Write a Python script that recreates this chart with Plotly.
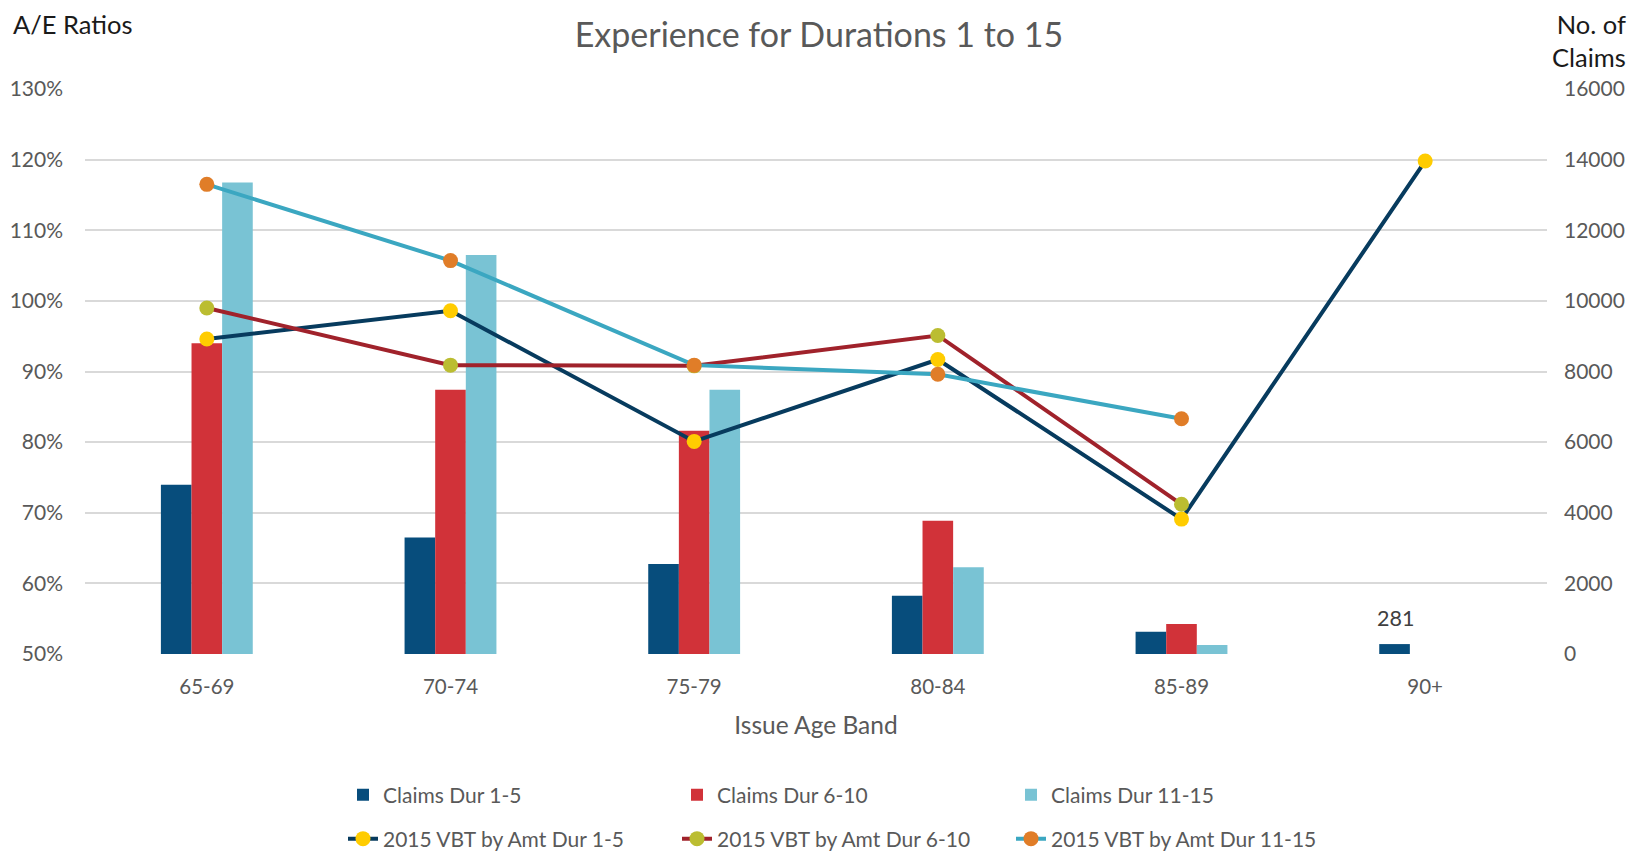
import plotly.graph_objects as go

# ---------------- data ----------------
age_bands = ["65-69", "70-74", "75-79", "80-84", "85-89", "90+"]

claims_dur_1_5 = [4790, 3300, 2550, 1650, 630, 281]
claims_dur_6_10 = [8800, 7480, 6320, 3770, 850, None]
claims_dur_11_15 = [13350, 11300, 7480, 2460, 255, None]

ae_dur_1_5 = [0.946, 0.986, 0.801, 0.917, 0.691, 1.198]
ae_dur_6_10 = [0.990, 0.909, 0.908, 0.951, 0.712, None]
ae_dur_11_15 = [1.165, 1.057, 0.909, 0.896, 0.833, None]

left_ticks = [0.5, 0.6, 0.7, 0.8, 0.9, 1.0, 1.1, 1.2, 1.3]
right_ticks = [0, 2000, 4000, 6000, 8000, 10000, 12000, 14000, 16000]

# ---------------- styles ----------------
FONT = "Lato"
GREY = "#595959"
bar_colors = ["#074D7C", "#D13239", "#79C3D4"]
line_colors = ["#073B5E", "#A0222B", "#3BA7C1"]
marker_colors = ["#FFCC00", "#BBBD31", "#E07D28"]

# figure sits inside the page body (8px default margin)
W, H = 1639, 846

fig = go.Figure()

bar_series = [
    ("Claims Dur 1-5", claims_dur_1_5),
    ("Claims Dur 6-10", claims_dur_6_10),
    ("Claims Dur 11-15", claims_dur_11_15),
]
for i, (name, vals) in enumerate(bar_series):
    fig.add_trace(go.Bar(
        x=age_bands, y=vals, name=name,
        marker=dict(color=bar_colors[i], line=dict(width=0)),
        yaxis="y",
        legend="legend",
    ))

line_series = [
    ("2015 VBT by Amt Dur 1-5", ae_dur_1_5),
    ("2015 VBT by Amt Dur 6-10", ae_dur_6_10),
    ("2015 VBT by Amt Dur 11-15", ae_dur_11_15),
]
for i, (name, vals) in enumerate(line_series):
    fig.add_trace(go.Scatter(
        x=age_bands, y=vals, name=name, mode="lines+markers",
        line=dict(color=line_colors[i], width=4),
        marker=dict(color=marker_colors[i], size=15, line=dict(width=0)),
        yaxis="y2",
        legend="legend2",
        cliponaxis=False,
    ))

legend_common = dict(
    orientation="h", xref="container", yref="container",
    x=335 / W, xanchor="left", yanchor="middle",
    entrywidth=289, entrywidthmode="pixels",
    font=dict(family=FONT, size=21, color=GREY),
    bgcolor="rgba(0,0,0,0)",
)

fig.update_layout(
    width=W, height=H,
    margin=dict(l=77, r=100, t=81, b=200, autoexpand=False),
    paper_bgcolor="white", plot_bgcolor="white",
    font=dict(family=FONT, size=20, color=GREY),
    barmode="group", bargap=0.623, bargroupgap=0,
    title=dict(text="Experience for Durations 1 to 15", xref="container", x=811 / W,
               xanchor="center", yref="container", y=1 - 27 / H, yanchor="middle",
               font=dict(family=FONT, size=34, color=GREY)),
    xaxis=dict(
        type="category", showgrid=False, showline=False, ticks="",
        tickfont=dict(family=FONT, size=20.5, color=GREY),
        ticklabelstandoff=18,
        title=dict(text="Issue Age Band", font=dict(family=FONT, size=24.5, color=GREY), standoff=20),
    ),
    yaxis=dict(
        side="right", range=[0, 16000], tickvals=right_ticks, tickformat="d",
        showgrid=True, gridcolor="#D9D9D9", gridwidth=1.5,
        zeroline=False, showline=False, ticks="",
        tickfont=dict(family=FONT, size=21, color=GREY),
        ticklabelstandoff=16,
    ),
    yaxis2=dict(
        side="left", overlaying="y", range=[0.5, 1.3], tickvals=left_ticks,
        tickformat=".0%", showgrid=False, zeroline=False, showline=False, ticks="",
        tickfont=dict(family=FONT, size=21, color=GREY),
        ticklabelstandoff=21,
    ),
    legend=dict(legend_common, y=1 - 787 / H),
    legend2=dict(legend_common, y=1 - 831 / H),
    annotations=[
        dict(text="A/E Ratios", xref="paper", yref="paper", x=0, y=1,
             xanchor="left", yanchor="middle", showarrow=False,
             xshift=-74.5, yshift=65,
             font=dict(family=FONT, size=25.5, color="#1A1A1A")),
        dict(text="No. of<br>Claims", xref="paper", yref="paper", x=1, y=1,
             xanchor="right", yanchor="middle", showarrow=False, align="right",
             xshift=81, yshift=49,
             font=dict(family=FONT, size=25.5, color="#1A1A1A")),
        dict(text=str(claims_dur_1_5[5]), xref="x", yref="y",
             x=age_bands[5], y=claims_dur_1_5[5],
             xanchor="center", yanchor="bottom", showarrow=False,
             xshift=-30, yshift=11,
             font=dict(family=FONT, size=21.5, color="#404040")),
    ],
    showlegend=True,
)

fig.write_html("out.html")
